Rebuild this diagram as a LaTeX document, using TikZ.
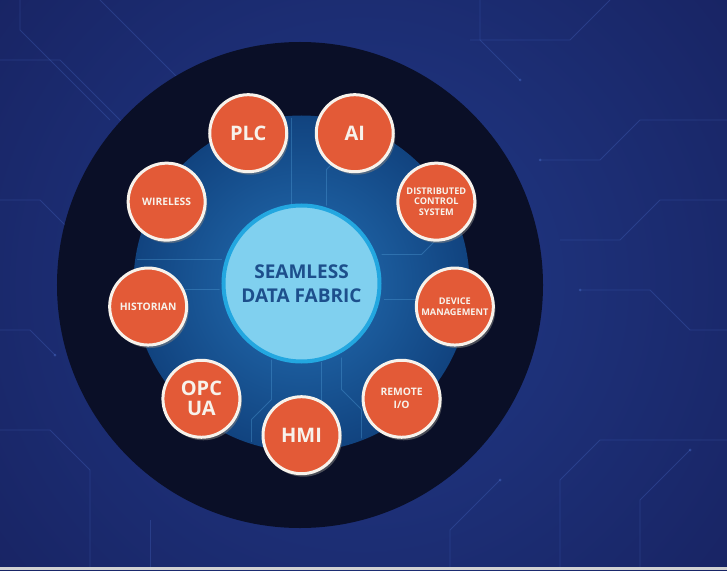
\documentclass[tikz,border=0pt]{standalone}
\usepackage{fontspec}
\setmainfont{Open Sans}
\usepackage{tikz}
\usetikzlibrary{shadows}

\definecolor{bgnavy}{HTML}{151C57}
\definecolor{bgglow}{HTML}{213A88}
\definecolor{ringdark}{HTML}{0A0F27}
\definecolor{glowblue}{HTML}{2470B5}
\definecolor{glowedge}{HTML}{11437F}
\definecolor{fabricfill}{HTML}{80D0EF}
\definecolor{fabricring}{HTML}{23A7E0}
\definecolor{fabrictext}{HTML}{1D4F8C}
\definecolor{spokeorange}{HTML}{E35A37}
\definecolor{spokecream}{HTML}{F7F2EB}
\definecolor{tracecol}{HTML}{4A6CC8}
\definecolor{tracelight}{HTML}{5FB0E8}

\begin{document}
\begin{tikzpicture}[x=1pt, y=1pt,
  spoke/.style={circle, fill=spokeorange, draw=spokecream, line width=3pt,
    minimum size=77pt, inner sep=0pt, align=center, text=spokecream,
    drop shadow={opacity=0.55, shadow xshift=2pt, shadow yshift=-3pt}},
  bigtxt/.style={font=\fontsize{20}{20}\selectfont\bfseries},
  midtxt/.style={font=\fontsize{10.3}{13}\selectfont\bfseries},
  smalltxt/.style={font=\fontsize{9.2}{10.5}\selectfont\bfseries},
  trace/.style={tracecol, opacity=0.3, line width=0.8pt},
  innertrace/.style={tracelight, opacity=0.3, line width=0.8pt}]
  \useasboundingbox (-301.5,-290.5) rectangle (425.5,279.5);
  \fill[bgnavy] (-301.5,-290.5) rectangle (425.5,279.5);
  \begin{scope}
    \clip (-301.5,-290.5) rectangle (425.5,279.5);
    \shade[inner color=bgglow, outer color=bgnavy] (60,-5) circle (640);
  \end{scope}
  \begin{scope}[shift={(-301.5,279.5)}, yscale=-1]
    \draw[trace] (0,60) -- (60,60) -- (140,140);
    \draw[trace] (20,0) -- (20,30) -- (110,120);
    \draw[trace] (100,0) -- (180,80);
    \draw[trace] (0,200) -- (40,200) -- (70,230);
    \draw[trace] (0,330) -- (30,330) -- (55,355);
    \draw[trace] (0,430) -- (50,430) -- (90,470) -- (90,570);
    \draw[trace] (150,570) -- (150,520);
    \draw[trace] (727,120) -- (640,120) -- (600,160) -- (540,160);
    \draw[trace] (727,200) -- (660,200) -- (620,240) -- (560,240);
    \draw[trace] (727,330) -- (690,330) -- (650,290) -- (580,290);
    \draw[trace] (560,570) -- (560,480) -- (600,440) -- (727,440);
    \draw[trace] (450,570) -- (450,530) -- (500,480);
    \draw[trace] (640,570) -- (640,500) -- (690,450);
    \draw[trace] (480,0) -- (480,40) -- (520,80);
    \draw[trace] (610,0) -- (570,40) -- (470,40);
    \fill[tracecol, opacity=0.45] (140,140) circle (1.5) (70,230) circle (1.5)
      (55,355) circle (1.5) (540,160) circle (1.5) (580,290) circle (1.5)
      (500,480) circle (1.5) (520,80) circle (1.5) (690,450) circle (1.5);
  \end{scope}
  \fill[gray!35] (-301.5,-290.5) rectangle (425.5,-287);
  \fill[ringdark] (-1.5,-5.5) circle (243);
  \shade[inner color=glowblue, outer color=glowedge] (0,-4) circle (168);
  \begin{scope}
    \clip (0,-4) circle (166);
    \draw[innertrace] (-80,20) -- (-170,20);
    \draw[innertrace] (-82,-10) -- (-120,-10) -- (-140,-30) -- (-170,-30);
    \draw[innertrace] (80,25) -- (120,25) -- (140,45) -- (170,45);
    \draw[innertrace] (82,-20) -- (170,-20);
    \draw[innertrace] (-30,-80) -- (-30,-120) -- (-50,-140) -- (-50,-170);
    \draw[innertrace] (20,-82) -- (20,-170);
    \draw[innertrace] (40,-78) -- (40,-110) -- (60,-130) -- (60,-170);
    \draw[innertrace] (-10,76) -- (-10,170);
    \draw[innertrace] (25,74) -- (25,110) -- (45,130) -- (45,170);
  \end{scope}
  \node[circle, fill=fabricfill, draw=fabricring, line width=4pt,
    minimum size=156pt, inner sep=0pt, align=center, text=fabrictext,
    font=\fontsize{19}{24}\selectfont\bfseries] (fabric) at (0,-4)
    {SEAMLESS\\DATA FABRIC};
  \node[spoke, bigtxt] (plc) at (110:155.7) {PLC};
  \node[spoke, bigtxt] (ai) at (70:155.7) {AI};
  \node[spoke, smalltxt] (dcs) at (30:155.7) {DISTRIBUTED\\CONTROL\\SYSTEM};
  \node[spoke, smalltxt] (devmgmt) at (-10:155.7) {DEVICE\\MANAGEMENT};
  \node[spoke, midtxt] (remoteio) at (-50:155.7) {REMOTE\\I/O};
  \node[spoke, bigtxt] (hmi) at (-90:155.7) {HMI};
  \node[spoke, bigtxt] (opcua) at (-130:155.7) {OPC\\UA};
  \node[spoke, midtxt] (historian) at (-170:155.7) {HISTORIAN};
  \node[spoke, midtxt] (wireless) at (150:155.7) {WIRELESS};
\end{tikzpicture}
\end{document}
